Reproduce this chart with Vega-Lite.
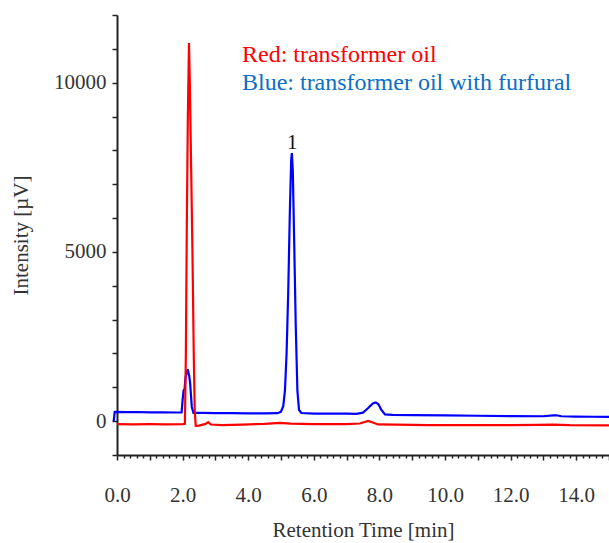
{
  "$schema": "https://vega.github.io/schema/vega-lite/v6.json",
  "autosize": {"type": "none"},
  "width": 492,
  "height": 440,
  "padding": {"left": 117, "top": 15, "right": 0, "bottom": 88},
  "background": "white",
  "config": {
    "view": {"stroke": null},
    "font": "Liberation Serif",
    "axis": {
      "grid": false,
      "domainColor": "#222222",
      "domainWidth": 2,
      "tickColor": "#222222",
      "tickWidth": 1.5,
      "labelFont": "Liberation Serif",
      "labelFontSize": 21,
      "labelColor": "#333333",
      "titleFont": "Liberation Serif",
      "titleFontSize": 21,
      "titleFontWeight": "normal",
      "titleColor": "#333333",
      "labelOverlap": false,
      "labelFlush": false
    }
  },
  "datasets": {
    "blue": [
      {"t": -0.1, "v": 0}, {"t": -0.07, "v": 275}, {"t": 0.3, "v": 265}, {"t": 0.6, "v": 270},
      {"t": 1.0, "v": 260}, {"t": 1.4, "v": 262}, {"t": 1.8, "v": 255}, {"t": 1.97, "v": 257},
      {"t": 2.0, "v": 620}, {"t": 2.03, "v": 900}, {"t": 2.06, "v": 950}, {"t": 2.09, "v": 1300},
      {"t": 2.155, "v": 1530}, {"t": 2.2, "v": 1350}, {"t": 2.23, "v": 1115}, {"t": 2.28, "v": 420},
      {"t": 2.33, "v": 245}, {"t": 2.6, "v": 245}, {"t": 3.0, "v": 240}, {"t": 3.5, "v": 235},
      {"t": 4.0, "v": 230}, {"t": 4.5, "v": 228}, {"t": 4.9, "v": 235}, {"t": 5.0, "v": 280},
      {"t": 5.07, "v": 450}, {"t": 5.12, "v": 900}, {"t": 5.17, "v": 2000}, {"t": 5.22, "v": 3800},
      {"t": 5.27, "v": 6200}, {"t": 5.31, "v": 7700}, {"t": 5.33, "v": 7920}, {"t": 5.36, "v": 7400},
      {"t": 5.4, "v": 5400}, {"t": 5.45, "v": 2800}, {"t": 5.5, "v": 900}, {"t": 5.55, "v": 330},
      {"t": 5.62, "v": 240}, {"t": 6.0, "v": 225}, {"t": 6.5, "v": 220}, {"t": 7.0, "v": 225},
      {"t": 7.3, "v": 215}, {"t": 7.5, "v": 250}, {"t": 7.65, "v": 380}, {"t": 7.8, "v": 520},
      {"t": 7.89, "v": 553}, {"t": 7.97, "v": 500}, {"t": 8.05, "v": 350}, {"t": 8.17, "v": 200},
      {"t": 8.4, "v": 185}, {"t": 9.0, "v": 180}, {"t": 10.0, "v": 170}, {"t": 11.0, "v": 160},
      {"t": 12.0, "v": 150}, {"t": 13.0, "v": 145}, {"t": 13.3, "v": 170}, {"t": 13.4, "v": 175},
      {"t": 13.55, "v": 145}, {"t": 14.0, "v": 135}, {"t": 14.5, "v": 130}, {"t": 15.0, "v": 128}
    ],
    "red": [
      {"t": 0.0, "v": -90}, {"t": 0.5, "v": -95}, {"t": 1.0, "v": -90}, {"t": 1.5, "v": -95},
      {"t": 2.0, "v": -90}, {"t": 2.07, "v": -80}, {"t": 2.1, "v": 2000}, {"t": 2.13, "v": 6000},
      {"t": 2.16, "v": 9000}, {"t": 2.195, "v": 11175}, {"t": 2.22, "v": 10000}, {"t": 2.26, "v": 7500},
      {"t": 2.3, "v": 5000}, {"t": 2.34, "v": 2000}, {"t": 2.37, "v": 300}, {"t": 2.4, "v": -140},
      {"t": 2.5, "v": -130}, {"t": 2.7, "v": -80}, {"t": 2.78, "v": -30}, {"t": 2.86, "v": -100},
      {"t": 3.2, "v": -118}, {"t": 3.8, "v": -100}, {"t": 4.5, "v": -80}, {"t": 4.97, "v": -50},
      {"t": 5.3, "v": -75}, {"t": 6.0, "v": -90}, {"t": 7.0, "v": -90}, {"t": 7.4, "v": -70},
      {"t": 7.66, "v": 9}, {"t": 7.8, "v": -40}, {"t": 7.96, "v": -98}, {"t": 8.5, "v": -100},
      {"t": 9.5, "v": -115}, {"t": 10.5, "v": -118}, {"t": 12.0, "v": -120}, {"t": 12.8, "v": -110},
      {"t": 13.3, "v": -100}, {"t": 13.8, "v": -120}, {"t": 15.0, "v": -125}
    ]
  },
  "encoding": {
    "x": {
      "field": "t", "type": "quantitative",
      "scale": {"domain": [0, 15], "nice": false, "zero": false},
      "axis": {
        "title": "Retention Time [min]",
        "values": [0,0.2,0.4,0.6,0.8,1,1.2,1.4,1.6,1.8,2,2.2,2.4,2.6,2.8,3,3.2,3.4,3.6,3.8,4,4.2,4.4,4.6,4.8,5,5.2,5.4,5.6,5.8,6,6.2,6.4,6.6,6.8,7,7.2,7.4,7.6,7.8,8,8.2,8.4,8.6,8.8,9,9.2,9.4,9.6,9.8,10,10.2,10.4,10.6,10.8,11,11.2,11.4,11.6,11.8,12,12.2,12.4,12.6,12.8,13,13.2,13.4,13.6,13.8,14,14.2,14.4,14.6,14.8,15],
        "labelExpr": "abs(datum.value/2 - round(datum.value/2)) < 0.001 ? format(datum.value, '.1f') : ''",
        "tickSize": {"condition": {"test": "abs(datum.value - round(datum.value)) < 0.001", "value": 5}, "value": 3},
        "labelPadding": 24,
        "titlePadding": 14
      }
    },
    "y": {
      "field": "v", "type": "quantitative",
      "scale": {"domain": [-1000, 12000], "nice": false, "zero": false},
      "axis": {
        "title": "Intensity [µV]",
        "values": [-1000,0,1000,2000,3000,4000,5000,6000,7000,8000,9000,10000,11000,12000],
        "labelExpr": "datum.value % 5000 === 0 ? format(datum.value, 'd') : ''",
        "tickSize": 5,
        "labelPadding": 6,
        "titlePadding": 22
      }
    }
  },
  "layer": [
    {
      "data": {"name": "blue"},
      "mark": {"type": "line", "color": "#0000ff", "strokeWidth": 2.2}
    },
    {
      "data": {"name": "red"},
      "mark": {"type": "line", "color": "#ff0000", "strokeWidth": 2.2}
    },
    {
      "data": {"values": [{"t": 3.81, "v": 10813, "label": "Red: transformer oil"}]},
      "mark": {"type": "text", "align": "left", "baseline": "middle", "font": "Liberation Serif", "fontSize": 24, "color": "#ff0000"},
      "encoding": {"text": {"field": "label"}}
    },
    {
      "data": {"values": [{"t": 3.81, "v": 9985, "label": "Blue: transformer oil with furfural"}]},
      "mark": {"type": "text", "align": "left", "baseline": "middle", "font": "Liberation Serif", "fontSize": 24, "color": "#0a6fc4"},
      "encoding": {"text": {"field": "label"}}
    },
    {
      "data": {"values": [{"t": 5.34, "v": 8220, "label": "1"}]},
      "mark": {"type": "text", "align": "center", "baseline": "middle", "font": "Liberation Serif", "fontSize": 21, "color": "#111111"},
      "encoding": {"text": {"field": "label"}}
    }
  ]
}
